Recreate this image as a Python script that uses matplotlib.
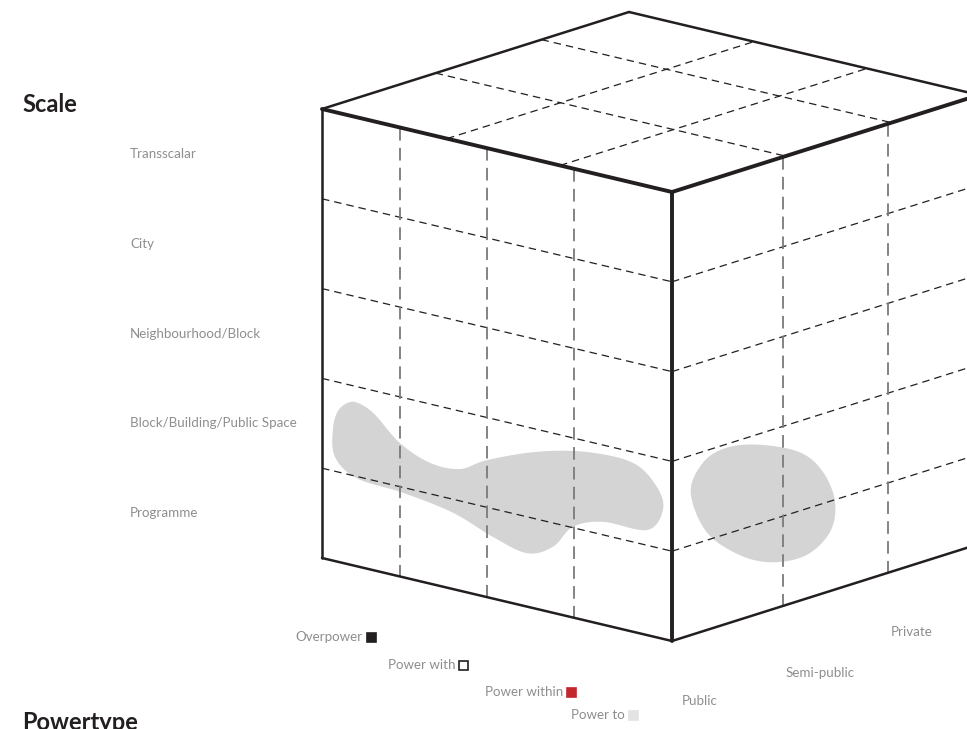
import numpy as np
import matplotlib
matplotlib.use("Agg")
import matplotlib.pyplot as plt
from matplotlib.patches import Polygon, Rectangle

# categorias
scale_levels = ["Transscalar", "City", "Neighbourhood/Block",
                "Block/Building/Public Space", "Programme"]
power_types = ["Overpower", "Power with", "Power within", "Power to"]
power_fill = ["#231f20", "white", "#c1272d", "#e3e3e3"]
power_edge = ["#231f20", "#231f20", "#c1272d", "#e3e3e3"]
space_types = ["Public", "Semi-public", "Private"]

# divisões da grelha (fração de cada face)
left_cols = [0.223, 0.471, 0.72]
right_cols = [0.36, 0.705]
top_lines_ab = [0.37, 0.715]
top_lines_ac = [0.357, 0.68]

# manchas (s ao longo da face, h a partir do topo)
blob_left_s = [0.075, 0.045, 0.031, 0.037, 0.099, 0.231, 0.374, 0.489, 0.586, 0.66, 0.717,
               0.803, 0.929, 0.974, 0.957, 0.889, 0.757, 0.614, 0.471, 0.394, 0.309,
               0.223, 0.150, 0.105]
blob_left_h = [0.640, 0.665, 0.709, 0.768, 0.804, 0.812, 0.830, 0.863, 0.881, 0.853, 0.798,
               0.771, 0.766, 0.713, 0.665, 0.624, 0.624, 0.650, 0.695, 0.729, 0.731,
               0.703, 0.652, 0.636]
blob_right_u = [0.287, 0.417, 0.492, 0.531, 0.515, 0.439, 0.330, 0.222, 0.113, 0.061,
                0.102, 0.178]
blob_right_h = [0.625, 0.670, 0.730, 0.805, 0.868, 0.903, 0.896, 0.857, 0.782, 0.682,
                0.624, 0.608]

# geometria do cubo
A = np.array([322.0, 109.0])
AB = np.array([350.0, 83.0])
AC = np.array([307.0, -97.0])
DOWN = np.array([0.0, 449.0])
B = A + AB

INK = "#231f20"
GREY_TXT = "#8e8e8e"
FONT = "Lato"


def left_pt(s, h):
    return A + s * AB + h * DOWN


def right_pt(u, h):
    return B + u * AC + h * DOWN


def top_pt(s, t):
    return A + s * AB + t * AC


def smooth_closed(pts, n=24):
    pts = np.asarray(pts)
    P = np.vstack([pts[-1], pts, pts[0], pts[1]])
    out = []
    for i in range(1, len(pts) + 1):
        p0, p1, p2, p3 = P[i - 1], P[i], P[i + 1], P[i + 2]
        for t in np.linspace(0, 1, n, endpoint=False):
            t2 = t * t
            t3 = t2 * t
            out.append(0.5 * ((2 * p1) + (-p0 + p2) * t + (2 * p0 - 5 * p1 + 4 * p2 - p3) * t2
                              + (-p0 + 3 * p1 - 3 * p2 + p3) * t3))
    return np.array(out)


def seg(ax, p, q, **kw):
    ax.plot([p[0], q[0]], [p[1], q[1]], **kw)


fig = plt.figure(figsize=(9.67, 7.29), dpi=100)
ax = fig.add_axes([0, 0, 1, 1])
ax.set_xlim(0, 967)
ax.set_ylim(729, 0)
ax.axis("off")

# manchas cinzentas
lp = smooth_closed([left_pt(s, h) for s, h in zip(blob_left_s, blob_left_h)])
ax.add_patch(Polygon(lp, closed=True, facecolor="#d4d4d4", edgecolor="none", zorder=1))
rp = smooth_closed([right_pt(u, h) for u, h in zip(blob_right_u, blob_right_h)])
ax.add_patch(Polygon(rp, closed=True, facecolor="#d4d4d4", edgecolor="none", zorder=1))

dash_k = dict(color=INK, lw=0.9, dashes=(6, 4), zorder=2)
dash_g = dict(color="#7a7a7a", lw=1.3, dashes=(7, 4), zorder=2)

n_rows = len(scale_levels)
for i in range(1, n_rows):
    h = i / n_rows
    seg(ax, left_pt(0, h), left_pt(1, h), **dash_k)
    seg(ax, right_pt(0, h), right_pt(1, h), **dash_k)

for s in left_cols:
    seg(ax, left_pt(s, 0), left_pt(s, 1), **dash_g)
for u in right_cols:
    seg(ax, right_pt(u, 0), right_pt(u, 1), **dash_g)

for t in top_lines_ab:
    seg(ax, top_pt(0, t), top_pt(1, t), **dash_k)
for s in top_lines_ac:
    seg(ax, top_pt(s, 0), top_pt(s, 1), **dash_k)

# arestas do cubo
thin = dict(color=INK, lw=1.8, solid_capstyle="round", zorder=3)
thick = dict(color=INK, lw=2.8, solid_capstyle="round", zorder=3)
seg(ax, A, A + DOWN, **thin)
seg(ax, A + DOWN, B + DOWN, **thin)
seg(ax, B + DOWN, B + AC + DOWN, **thin)
seg(ax, A, A + AC, **thin)
seg(ax, A + AC, B + AC, **thin)
seg(ax, A, B, **thick)
seg(ax, B, B + DOWN, **thick)
seg(ax, B, B + AC, **thick)

# textos
ax.text(22, 104, "Scale", fontsize=17, fontweight="bold", family=FONT, color=INK,
        ha="left", va="center")
ax.text(22, 723, "Powertype", fontsize=17, fontweight="bold", family=FONT, color=INK,
        ha="left", va="center")

for i, name in enumerate(scale_levels):
    y = left_pt(0, (i + 0.5) / n_rows)[1]
    ax.text(130, y, name, fontsize=9.6, family=FONT, color=GREY_TXT,
            ha="left", va="center")

power_x = [371, 463, 571, 633]
power_y = [637, 665, 692, 715]
sq = 9
for name, x, y, fc, ec in zip(power_types, power_x, power_y, power_fill, power_edge):
    ax.text(x - 8, y, name, fontsize=9.6, family=FONT, color=GREY_TXT,
            ha="right", va="center")
    ax.add_patch(Rectangle((x - sq / 2, y - sq / 2), sq, sq, facecolor=fc, edgecolor=ec,
                           lw=1.2, zorder=4))

space_x = [700, 820, 912]
space_y = [701, 673, 632]
for name, x, y in zip(space_types, space_x, space_y):
    ax.text(x, y, name, fontsize=9.6, family=FONT, color=GREY_TXT,
            ha="center", va="center")

fig.savefig("out.png", dpi=100)
